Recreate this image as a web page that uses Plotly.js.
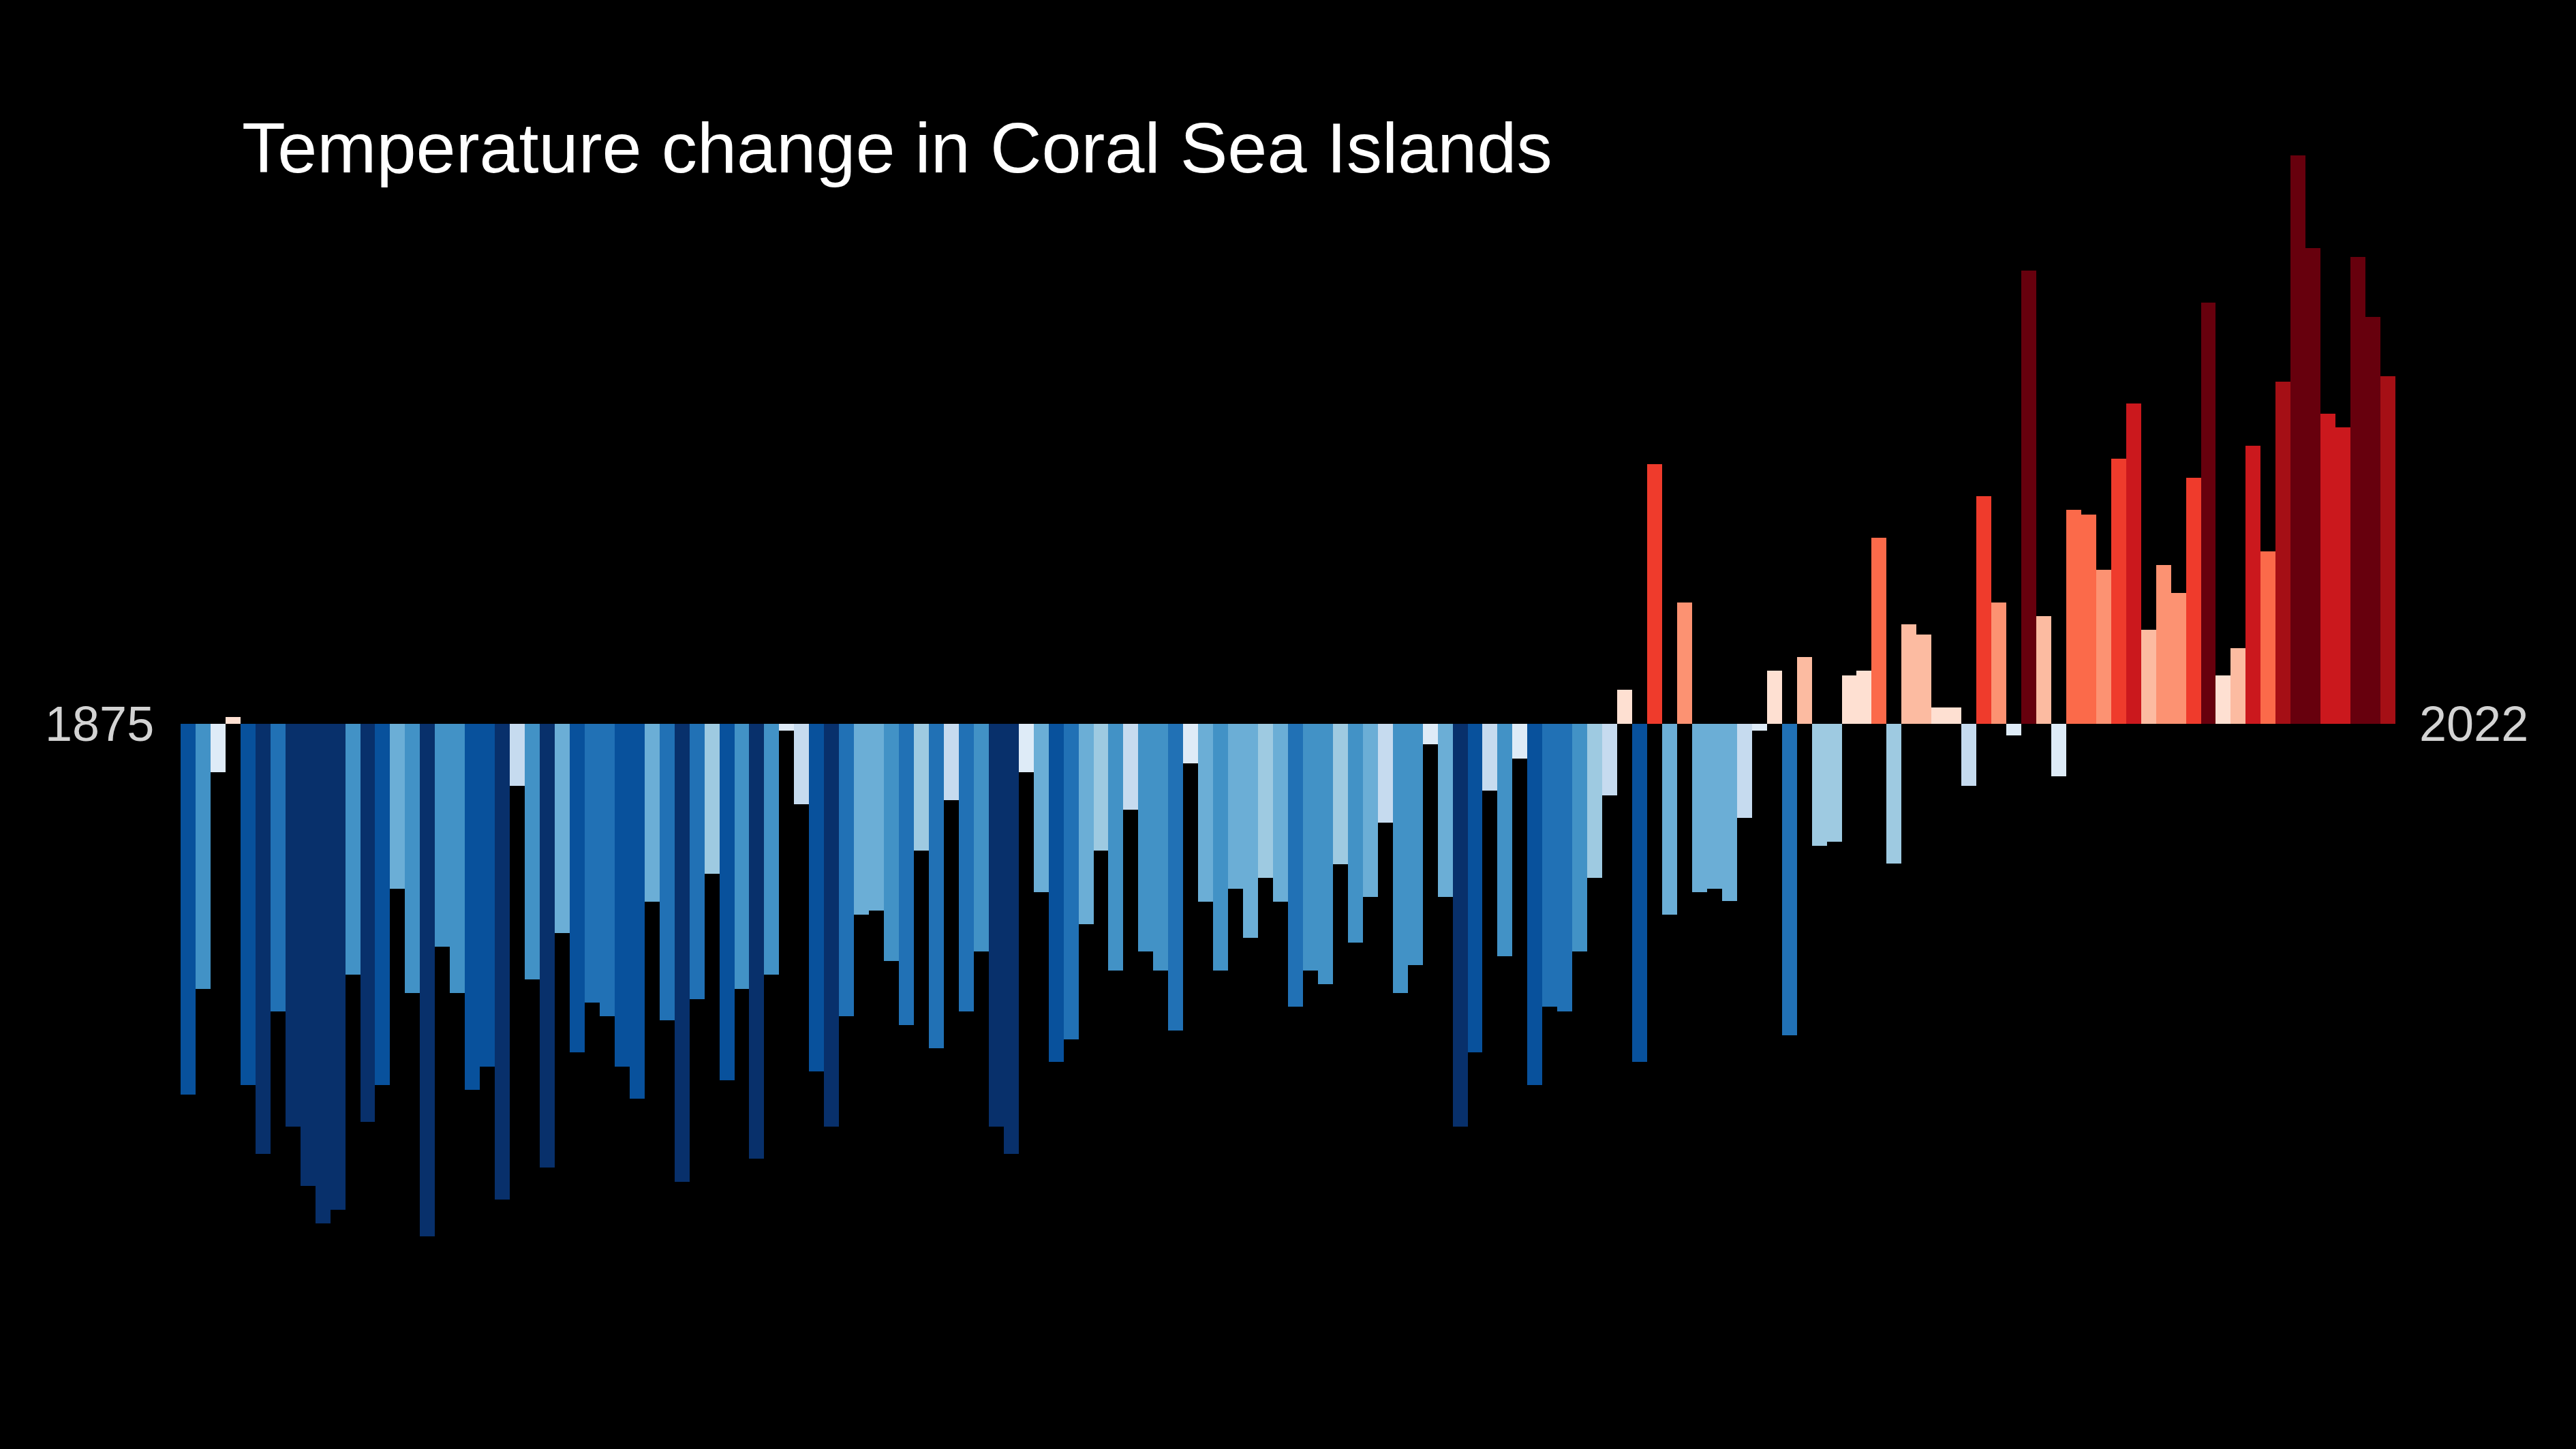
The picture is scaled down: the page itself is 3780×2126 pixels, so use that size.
<!DOCTYPE html>
<html>
<head>
<meta charset="utf-8">
<script src="https://cdn.plot.ly/plotly-3.0.1.min.js"></script>
<style>
  html, body { margin: 0; padding: 0; background: #000; }
  #chart { width: 3780px; height: 2126px; }
</style>
</head>
<body>
<div id="chart"></div>
<script>
const firstYear = 1875;
const lastYear = 2022;
const tickLabels = ["1875", "2022"];
const titleText = "Temperature change in Coral Sea Islands";

const anomalies = [
  -0.680, -0.486, -0.089, 0.013, -0.663, -0.789, -0.528, -0.739, -0.848, -0.916,
  -0.891, -0.460, -0.730, -0.663, -0.302, -0.494, -0.940, -0.409, -0.494, -0.671,
  -0.629, -0.873, -0.114, -0.469, -0.814, -0.384, -0.603, -0.511, -0.536, -0.629,
  -0.688, -0.326, -0.544, -0.840, -0.505, -0.275, -0.654, -0.486, -0.797, -0.460,
  -0.013, -0.148, -0.637, -0.739, -0.536, -0.350, -0.343, -0.435, -0.553, -0.232,
  -0.595, -0.140, -0.528, -0.418, -0.739, -0.789, -0.089, -0.309, -0.620, -0.579,
  -0.367, -0.232, -0.452, -0.157, -0.418, -0.452, -0.562, -0.072, -0.326, -0.452,
  -0.302, -0.392, -0.283, -0.326, -0.519, -0.452, -0.477, -0.258, -0.401, -0.317,
  -0.181, -0.494, -0.443, -0.038, -0.317, -0.739, -0.603, -0.123, -0.426, -0.064,
  -0.663, -0.519, -0.528, -0.418, -0.283, -0.131, 0.063, -0.620, 0.476, -0.350,
  0.223, -0.309, -0.302, -0.325, -0.173, -0.013, 0.097, -0.571, 0.122, -0.224,
  -0.216, 0.089, 0.097, 0.341, -0.256, 0.182, 0.164, 0.030, 0.030, -0.114,
  0.418, 0.223, -0.021, 0.831, 0.198, -0.096, 0.392, 0.384, 0.283, 0.486,
  0.587, 0.173, 0.291, 0.240, 0.451, 0.772, 0.089, 0.139, 0.510, 0.316,
  0.628, 1.043, 0.873, 0.569, 0.544, 0.856, 0.746, 0.637
];

const stripeColors = [
  "#08306b", "#08519c", "#2171b5", "#4292c6", "#6baed6", "#9ecae1", "#c6dbef", "#deebf7",
  "#fee0d2", "#fcbba1", "#fc9272", "#fb6a4a", "#ef3b2c", "#cb181d", "#a50f15", "#67000d"
];

const years = [];
for (let y = firstYear; y <= lastYear; y++) years.push(y);

// discrete colorscale
const n = stripeColors.length;
const colorscale = [];
stripeColors.forEach((c, i) => {
  colorscale.push([i / n, c]);
  colorscale.push([(i + 1) / n, c]);
});

const trace = {
  type: "bar",
  x: years,
  y: anomalies,
  marker: {
    color: anomalies,
    colorscale: colorscale,
    cmin: -0.8,
    cmax: 0.8,
    showscale: false,
    line: { width: 0 }
  },
  hoverinfo: "x+y"
};

const layout = {
  width: 3780,
  height: 2126,
  paper_bgcolor: "#000000",
  plot_bgcolor: "#000000",
  margin: { l: 265, r: 265, t: 0, b: 0, pad: 0 },
  bargap: 0,
  showlegend: false,
  xaxis: {
    range: [firstYear - 0.5, lastYear + 0.5],
    visible: false,
    fixedrange: true
  },
  yaxis: {
    range: [-1.33, 1.3275],
    visible: false,
    fixedrange: true
  },
  title: {
    text: titleText,
    font: { family: "Liberation Sans, Arial, Helvetica, sans-serif", size: 104.5, color: "#ffffff" },
    xref: "container",
    yref: "container",
    x: 355 / 3780,
    xanchor: "left",
    y: 1 - 216 / 2126,
    yanchor: "middle"
  },
  annotations: [
    {
      text: tickLabels[0],
      xref: "x", yref: "y",
      x: firstYear - 0.5, y: 0,
      xanchor: "right", yanchor: "middle",
      xshift: -37,
      showarrow: false,
      font: { family: "Liberation Sans, Arial, Helvetica, sans-serif", size: 72, color: "#d3d3d3" }
    },
    {
      text: tickLabels[1],
      xref: "x", yref: "y",
      x: lastYear + 0.5, y: 0,
      xanchor: "left", yanchor: "middle",
      xshift: 33,
      showarrow: false,
      font: { family: "Liberation Sans, Arial, Helvetica, sans-serif", size: 72, color: "#d3d3d3" }
    }
  ]
};

Plotly.newPlot("chart", [trace], layout, { displayModeBar: false, staticPlot: true });
</script>
</body>
</html>
